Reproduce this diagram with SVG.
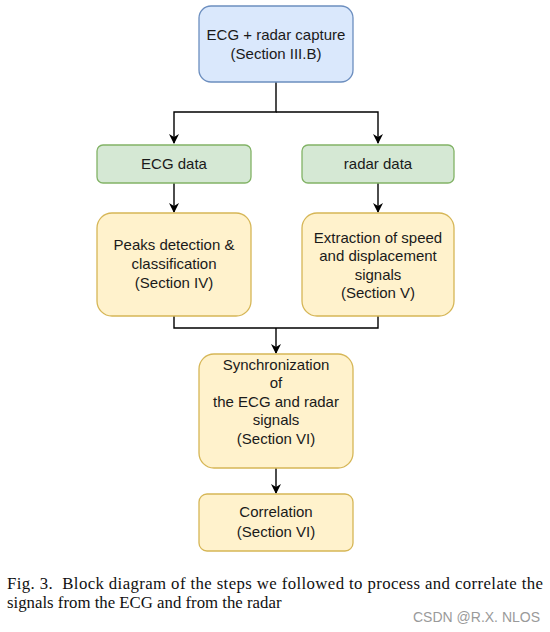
<svg xmlns="http://www.w3.org/2000/svg" width="550" height="632" viewBox="0 0 550 632">
<defs>
<style>
.blue{fill:#dae8fc;stroke:#6c8ebf;stroke-width:1.3}
.green{fill:#d5e8d4;stroke:#82b366;stroke-width:1.3}
.yellow{fill:#fff2cc;stroke:#d6b656;stroke-width:1.3}
.t{font-family:"Liberation Sans",Arial,sans-serif;font-size:15px;fill:#1a1a1a;text-anchor:middle}
.edge{fill:none;stroke:#000;stroke-width:1.4}
.cap{font-family:"Liberation Serif","Times New Roman",serif;font-size:16.8px;fill:#111;white-space:pre}
.wm{font-family:"Liberation Sans",Arial,sans-serif;font-size:14px;fill:#9a9a9a}
</style>
<marker id="arr" viewBox="0 0 10 10" refX="9" refY="5" markerWidth="10" markerHeight="10" markerUnits="userSpaceOnUse" orient="auto">
<path d="M0,0 L10,5 L0,10 L3,5 Z" fill="#000"/>
</marker>
</defs>
<rect width="550" height="632" fill="#fff"/>
<g id="connectors">
<path class="edge" d="M276,82 V112 H174 V143" marker-end="url(#arr)"/>
<path class="edge" d="M276,112 H378 V143" marker-end="url(#arr)"/>
<path class="edge" d="M174,183 V212" marker-end="url(#arr)"/>
<path class="edge" d="M378,183 V212" marker-end="url(#arr)"/>
<path class="edge" d="M174,316 V328 H378 V316"/>
<path class="edge" d="M276,328 V353" marker-end="url(#arr)"/>
<path class="edge" d="M276,468 V493" marker-end="url(#arr)"/>
</g>
<g id="capture">
<rect class="blue" x="199" y="6" width="154" height="76" rx="12"/>
<text class="t" x="276" y="40">ECG + radar capture</text>
<text class="t" x="276" y="59">(Section III.B)</text>
</g>
<g id="ecg-data">
<rect class="green" x="97" y="145" width="154" height="38" rx="6"/>
<text class="t" x="174" y="169">ECG data</text>
</g>
<g id="radar-data">
<rect class="green" x="302" y="145" width="152" height="38" rx="6"/>
<text class="t" x="378" y="169">radar data</text>
</g>
<g id="peaks">
<rect class="yellow" x="97" y="213" width="154" height="103" rx="15"/>
<text class="t" x="174" y="250">Peaks detection &amp;</text>
<text class="t" x="174" y="269">classification</text>
<text class="t" x="174" y="288">(Section IV)</text>
</g>
<g id="extraction">
<rect class="yellow" x="302" y="213" width="152" height="103" rx="15"/>
<text class="t" x="378" y="243">Extraction of speed</text>
<text class="t" x="378" y="261">and displacement</text>
<text class="t" x="378" y="280">signals</text>
<text class="t" x="378" y="298">(Section V)</text>
</g>
<g id="sync">
<rect class="yellow" x="199" y="354" width="154" height="114" rx="15"/>
<text class="t" x="276" y="370">Synchronization</text>
<text class="t" x="276" y="388">of</text>
<text class="t" x="276" y="407">the ECG and radar</text>
<text class="t" x="276" y="425">signals</text>
<text class="t" x="276" y="444">(Section VI)</text>
</g>
<g id="correlation">
<rect class="yellow" x="199" y="494" width="154" height="57" rx="8"/>
<text class="t" x="276" y="517">Correlation</text>
<text class="t" x="276" y="537">(Section VI)</text>
</g>
<text class="cap" x="7" y="589" textLength="536" lengthAdjust="spacing" xml:space="preserve">Fig. 3.  Block diagram of the steps we followed to process and correlate the</text>
<text class="cap" x="7" y="608">signals from the ECG and from the radar</text>
<text class="wm" x="413" y="622">CSDN @R.X. NLOS</text>
</svg>
